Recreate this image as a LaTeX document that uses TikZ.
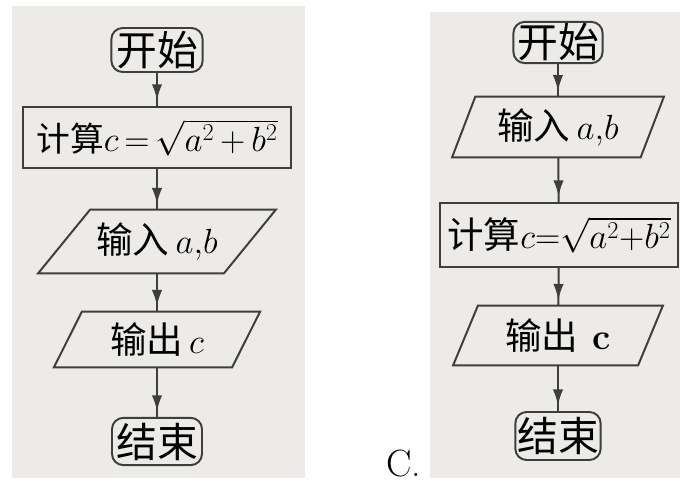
\documentclass[tikz,border=0pt]{standalone}
\usepackage{fontspec}
\newfontfamily\cjk{Noto Sans CJK SC}
\usetikzlibrary{arrows.meta, decorations.markings}
\definecolor{mygray}{RGB}{236, 235, 231}
\definecolor{myink}{RGB}{62, 62, 62}
\tikzset{>=latex}
\tikzset{
  term/.style={draw=myink, line width=1.4pt, rounded corners=8pt, inner sep=0pt, font=\cjk\fontsize{29}{30}\selectfont},
  proc/.style={draw=myink, line width=1.4pt, inner sep=0pt, font=\cjk\fontsize{24}{26}\selectfont},
  io/.style={inner sep=0pt, font=\cjk\fontsize{26}{28}\selectfont},
  para/.style={draw=myink, line width=1.4pt, line join=miter},
  flow/.style={color=myink, line width=1.4pt, decoration={markings, mark=at position -4pt with {\arrow{Latex[length=4mm, width=2.6mm]}}}, postaction={decorate}}
}

\begin{document}
\begin{tikzpicture}[x=0.025cm, y=-0.025cm]
\useasboundingbox (0,0) rectangle (680,484);
\fill[mygray] (12,6) rectangle (305,478);
\fill[mygray] (430,12) rectangle (680,478);
\begin{scope}
\node[term, minimum width=2.28cm, minimum height=1.1cm] (ls) at (157,50) {开始};
\node[proc, minimum width=6.7cm, minimum height=1.53cm] (lc) at (157,137.5) {计算$c\,{=}\,\sqrt{a^2\,{+}\,b^2}$};
\node[io, minimum width=4.63cm, minimum height=1.58cm] (lin) at (157,241.5) {输入\,$a{,}b$};
\draw[para] ([xshift=0.65cm]lin.north west) -- ([xshift=0.65cm]lin.north east) -- ([xshift=-0.65cm]lin.south east) -- ([xshift=-0.65cm]lin.south west) -- cycle;
\node[io, minimum width=4.44cm, minimum height=1.38cm] (lout) at (157,339.5) {输出\,$c$};
\draw[para] ([xshift=0.35cm]lout.north west) -- ([xshift=0.35cm]lout.north east) -- ([xshift=-0.35cm]lout.south east) -- ([xshift=-0.35cm]lout.south west) -- cycle;
\node[term, minimum width=2.25cm, minimum height=1.18cm] (le) at (157,441.5) {结束};
\draw[flow] (ls) -- (lc);
\draw[flow] (lc) -- (lin);
\draw[flow] (lin) -- (lout);
\draw[flow] (lout) -- (le);
\end{scope}
\begin{scope}
\node[term, minimum width=2.23cm, minimum height=1.03cm] (rs) at (558,42.5) {开始};
\node[io, minimum width=4.7cm, minimum height=1.5cm] (rin) at (558,127) {输入\,$a{,}b$};
\draw[para] ([xshift=0.29cm]rin.north west) -- ([xshift=0.29cm]rin.north east) -- ([xshift=-0.29cm]rin.south east) -- ([xshift=-0.29cm]rin.south west) -- cycle;
\node[proc, minimum width=5.95cm, minimum height=1.6cm] (rc) at (559,235) {{\fontsize{26}{28}\selectfont 计算}$c{=}\sqrt{a^2{+}b^2}$};
\node[io, minimum width=4.61cm, minimum height=1.48cm] (rout) at (558,335.5) {输出\, {\normalfont\bfseries c}};
\draw[para] ([xshift=0.31cm]rout.north west) -- ([xshift=0.31cm]rout.north east) -- ([xshift=-0.31cm]rout.south east) -- ([xshift=-0.31cm]rout.south west) -- cycle;
\node[term, minimum width=2.13cm, minimum height=1.2cm] (re) at (558,436) {结束};
\draw[flow] (rs) -- (rin);
\draw[flow] (rin) -- (rc);
\draw[flow] (rc) -- (rout);
\draw[flow] (rout) -- (re);
\end{scope}
\node[font=\fontsize{27}{28}\selectfont, anchor=base] (lblc) at (404,477) {C.};
\end{tikzpicture}
\end{document}
